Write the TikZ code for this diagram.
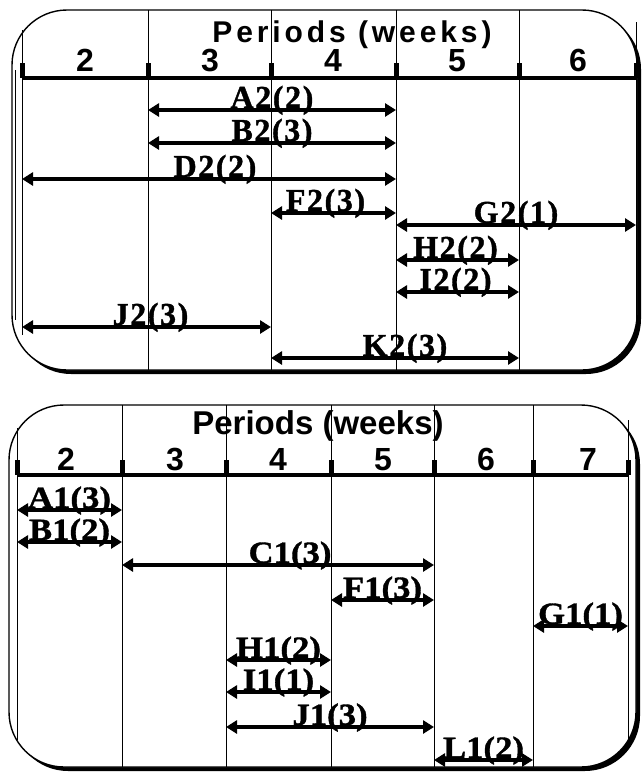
\documentclass[tikz,border=0pt]{standalone}
\usepackage{fontspec}
\setmainfont{Liberation Serif}
\newfontfamily\toplabfam[LetterSpace=5,FakeBold=1.2]{Liberation Serif}
\newfontfamily\botlabfam[FakeStretch=1.12,FakeBold=1.2]{Liberation Serif}
\newfontfamily\ttlfam[LetterSpace=13]{Liberation Sans}
\newfontfamily\wkfam{Liberation Sans}
\usetikzlibrary{arrows.meta}

\newcommand\toplabfont{\toplabfam\bfseries\fontsize{32}{34}\selectfont}
\newcommand\botlabfont{\botlabfam\bfseries\fontsize{31}{33}\selectfont}
\newcommand\ttltopfont{\ttlfam\bfseries\fontsize{30}{32}\selectfont}
\newcommand\ttlbotfont{\wkfam\bfseries\fontsize{33}{35}\selectfont}
\newcommand\wkfont{\wkfam\bfseries\fontsize{32}{34}\selectfont}

\begin{document}
\begin{tikzpicture}[x=1pt,y=-1pt,
    panel/.style={draw,line width=1.4pt,fill=white,rounded corners=55pt},
    panelshadow/.style={fill=black,rounded corners=55pt},
    gridline/.style={line width=.9pt},
    wkaxis/.style={line width=3.5pt},
    wktick/.style={line width=5pt},
    span/.style={{Triangle[length=11pt,width=13pt]}-{Triangle[length=11pt,width=13pt]},line width=3.2pt},
    tlab/.style={anchor=base,inner sep=0pt,yshift=2pt,font=\toplabfont},
    blab/.style={anchor=base,inner sep=0pt,yshift=2pt,font=\botlabfont},
    wk/.style={anchor=base,inner sep=0pt,font=\wkfont}]
  \useasboundingbox (0,0) rectangle (641,774);

  % --- upper chart ---
  \path[panelshadow] (16,14) rectangle (641,374);
  \path[panel] (12,10) rectangle (637,370);
  \foreach \x in {148,271,396,519}
    \draw[gridline] (\x,10) -- (\x,370);
  \draw[gridline] (22,30) -- (22,335);
  \draw[gridline] (636,22) -- (636,330);
  \draw[gridline] (15.5,70) -- (15.5,320);
  \draw[wkaxis] (22,78) -- (636,78);
  \foreach \x in {22,148,271,396,519,636}
    \draw[wktick] (\x,63) -- (\x,78);
  \node[anchor=base,inner sep=0pt,font=\ttltopfont] (ttltop) at (352,42) {Periods (weeks)};
  \foreach \d/\x in {2/85,3/210,4/333,5/457,6/578}
    \node[wk] (t\d) at (\x,71) {\d};
  \foreach \n/\k/\xa/\xb/\y/\dx in {A2/2/148/396/110/0,B2/3/148/396/143/0,D2/2/22/396/179/6,
      F2/3/271/396/213/-8,G2/1/396/636/225/0,H2/2/396/519/260/-2,I2/2/396/519/292/-2,
      J2/3/22/271/327/4,K2/3/271/519/358/10}{
    \coordinate (\n l) at (\xa,\y);
    \coordinate (\n r) at (\xb,\y);
    \draw[span] (\n l) -- node[tlab,xshift=\dx pt] (\n) {\n(\k)} (\n r);
  }

  % --- lower chart ---
  \path[panelshadow] (13,409) rectangle (640,771);
  \path[panel] (9,405) rectangle (636,767);
  \foreach \x in {122,226,331,434,533}
    \draw[gridline] (\x,405) -- (\x,767);
  \draw[gridline] (17,428) -- (17,740);
  \draw[gridline] (628,420) -- (628,740);
  \draw[wkaxis] (17,475) -- (628,475);
  \foreach \x in {17,122,226,331,434,533,628}
    \draw[wktick] (\x,460) -- (\x,475);
  \node[anchor=base,inner sep=0pt,font=\ttlbotfont] (ttlbot) at (318,434) {Periods (weeks)};
  \foreach \d/\x in {2/66,3/175,4/278,5/383,6/486,7/588}
    \node[wk] (b\d) at (\x,470) {\d};
  \foreach \n/\k/\xa/\xb/\y/\dx in {A1/3/17/122/510/0,B1/2/17/122/542/0,C1/3/122/434/565/12,
      F1/3/331/434/600/0,G1/1/533/628/626/0,H1/2/226/331/660/0,I1/1/226/331/692/0,
      J1/3/226/434/727/0,L1/2/434/533/760/0}{
    \coordinate (\n l) at (\xa,\y);
    \coordinate (\n r) at (\xb,\y);
    \draw[span] (\n l) -- node[blab,xshift=\dx pt] (\n) {\n(\k)} (\n r);
  }
\end{tikzpicture}
\end{document}
